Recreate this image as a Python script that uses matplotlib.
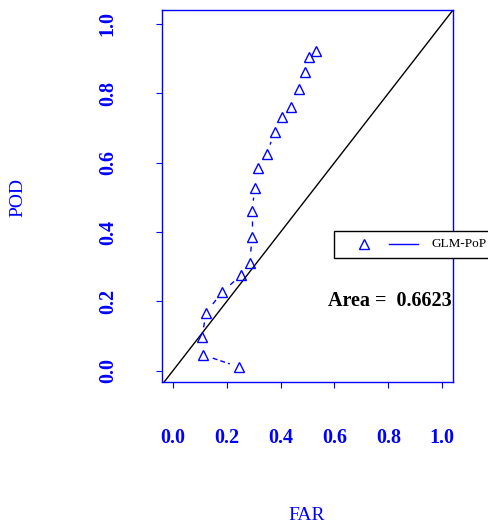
import numpy as np
import matplotlib
matplotlib.use("Agg")
import matplotlib.pyplot as plt
from matplotlib.patches import Rectangle
from matplotlib.lines import Line2D

# ROC curve points for the GLM-PoP model
far = [0.532, 0.507, 0.491, 0.468, 0.439, 0.406, 0.378, 0.348, 0.318, 0.305,
       0.294, 0.294, 0.286, 0.255, 0.183, 0.124, 0.108, 0.113, 0.247]
pod = [0.923, 0.904, 0.860, 0.812, 0.760, 0.731, 0.687, 0.625, 0.585, 0.528,
       0.462, 0.387, 0.310, 0.277, 0.227, 0.168, 0.097, 0.046, 0.011]
area = 0.6623
model_name = "GLM-PoP"
ticks = [0.0, 0.2, 0.4, 0.6, 0.8, 1.0]
tick_labels = ["0.0", "0.2", "0.4", "0.6", "0.8", "1.0"]

BLUE = "#0000ff"
SERIF = ["Liberation Serif", "DejaVu Serif"]
plt.rcParams["font.family"] = SERIF

W, H, DPI = 488, 522, 100
fig = plt.figure(figsize=(W / DPI, H / DPI), dpi=DPI)
ax = fig.add_axes([162 / W, 1 - 382 / H, (453 - 162) / W, (382 - 10) / H])
ax.set_xlim(-0.04, 1.04)
ax.set_ylim(-0.032, 1.04)

for s in ax.spines.values():
    s.set_color(BLUE)
    s.set_linewidth(1.0)

ax.set_xticks(ticks)
ax.set_xticklabels(tick_labels)
ax.set_yticks(ticks)
ax.set_yticklabels(tick_labels, rotation=90, va="center")
ax.tick_params(axis="both", colors=BLUE, length=4.3, width=0.8, labelsize=14.5)
ax.tick_params(axis="x", pad=28.5)
ax.tick_params(axis="y", pad=27.5)
for lab in ax.get_xticklabels() + ax.get_yticklabels():
    lab.set_fontweight("bold")
    lab.set_color(BLUE)

# 1:1 reference line
ax.axline((0, 0), (1, 1), color="black", lw=1.0)

# points with dashed connectors that stop short of each marker
ax.plot(far, pod, linestyle="none", marker="^", markersize=7.5,
        markerfacecolor="none", markeredgecolor=BLUE, markeredgewidth=1.0)
pts = ax.transData.transform(np.column_stack([far, pod]))
gap = 10.0  # pixels
inv = ax.transData.inverted()
for p0, p1 in zip(pts[:-1], pts[1:]):
    d = p1 - p0
    L = np.hypot(*d)
    if L <= 2 * gap:
        continue
    u = d / L
    a = inv.transform(p0 + u * gap)
    b = inv.transform(p1 - u * gap)
    ax.plot([a[0], b[0]], [a[1], b[1]], color=BLUE, lw=1.0,
            linestyle=(0, (3.6, 2.2)))

# area annotation
fig.text(452 / W, 1 - 301 / H, f"Area =  {area:.4f}", ha="right", va="center",
         fontsize=14.5, fontweight="bold", color="black")

# legend box
fig.add_artist(Rectangle((334 / W, 1 - 258 / H), 200 / W, 27 / H,
                         transform=fig.transFigure, facecolor="white",
                         edgecolor="black", lw=1.0, clip_on=False))
ly = 1 - 244 / H
fig.add_artist(Line2D([364 / W], [ly], transform=fig.transFigure, marker="^",
                      markersize=7.5, markerfacecolor="none",
                      markeredgecolor=BLUE, markeredgewidth=1.0, linestyle="none"))
fig.add_artist(Line2D([389 / W, 418 / W], [ly, ly], transform=fig.transFigure,
                      color=BLUE, lw=1.0))
fig.text(432 / W, ly, model_name, ha="left", va="center", fontsize=9.5,
         color="black")

# axis titles
fig.text(18 / W, 1 - 197 / H, "POD", rotation=90, ha="center", va="center",
         fontsize=14, color=BLUE)
fig.text(307 / W, 1 - 515 / H, "FAR", ha="center", va="center",
         fontsize=14, color=BLUE)

fig.savefig("out.png", dpi=DPI)
